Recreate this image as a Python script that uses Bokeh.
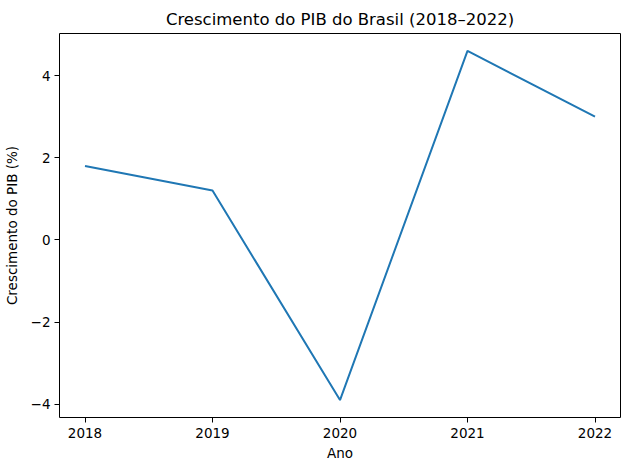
from bokeh.plotting import figure
from bokeh.models import FixedTicker, Range1d
from bokeh.embed import file_html
from bokeh.resources import INLINE

anos = [2018, 2019, 2020, 2021, 2022]
crescimento = [1.8, 1.2, -3.9, 4.6, 3.0]
y_ticks = [-4, -2, 0, 2, 4]

p = figure(frame_width=561, frame_height=384, output_backend="svg", toolbar_location=None,
           title="Crescimento do PIB do Brasil (2018–2022)",
           x_range=Range1d(2017.8, 2022.2), y_range=Range1d(-4.325, 5.025),
           min_border_left=55, min_border_right=1, min_border_top=33, min_border_bottom=0)

p.line(anos, crescimento, line_color="#1f77b4", line_width=2)

p.title.align = "center"
p.title.text_font = "DejaVu Sans"
p.title.text_font_size = "16.5px"
p.title.text_font_style = "normal"
p.title.text_color = "black"

p.outline_line_color = "black"
p.outline_line_alpha = 1
p.outline_line_width = 1
p.xgrid.visible = False
p.ygrid.visible = False
p.background_fill_color = "white"
p.border_fill_color = "white"

for ax in (p.xaxis[0], p.yaxis[0]):
    ax.axis_line_color = None
    ax.major_tick_line_color = "black"
    ax.major_tick_in = 0
    ax.major_tick_out = 5
    ax.minor_tick_line_color = None
    ax.major_label_text_font = "DejaVu Sans"
    ax.major_label_text_font_size = "13.5px"
    ax.major_label_text_color = "black"
    ax.axis_label_text_font = "DejaVu Sans"
    ax.axis_label_text_font_size = "13.5px"
    ax.axis_label_text_font_style = "normal"
    ax.axis_label_text_color = "black"

p.xaxis.ticker = FixedTicker(ticks=anos)
p.yaxis.ticker = FixedTicker(ticks=y_ticks)
p.yaxis.major_label_overrides = {t: str(t).replace("-", "\u2212") for t in y_ticks}
p.xaxis.axis_label = "Ano"
p.yaxis.axis_label = "Crescimento do PIB (%)"
p.xaxis.major_label_standoff = 5
p.yaxis.major_label_standoff = 4
p.yaxis.axis_label_standoff = 8
p.xaxis.axis_label_standoff = 4

open("out.html", "w").write(file_html(p, INLINE))
